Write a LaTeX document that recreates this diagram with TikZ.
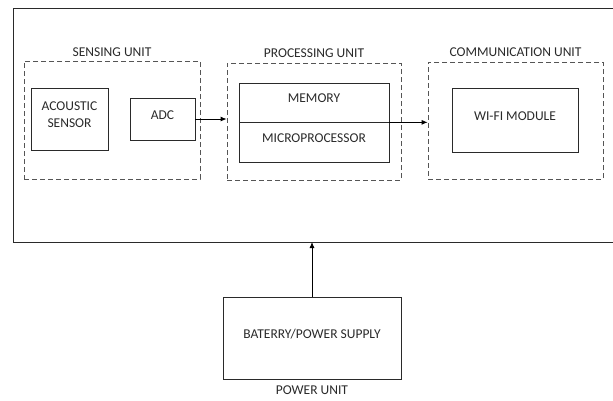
\documentclass[tikz,border=0pt]{standalone}
\usepackage{fontspec}
\setmainfont{Carlito}
\usetikzlibrary{arrows.meta}
\definecolor{ink}{HTML}{2A2A2A}
\definecolor{dashgray}{HTML}{555555}
\begin{document}
\begin{tikzpicture}[x=1pt,y=-1pt,
  font=\fontsize{13.5}{17}\selectfont, text=ink,
  unitbox/.style={draw=dashgray, dashed, dash pattern=on 5pt off 3pt, line width=0.8pt, minimum width=#1},
  block/.style={draw=ink, line width=0.7pt, inner sep=0pt, align=center, text depth=8pt},
  unitlabel/.style={anchor=base, inner sep=0pt},
  flow/.style={draw=black, line width=0.8pt, -{Latex[length=6pt,width=5pt]}}
]
\useasboundingbox (0,0) rectangle (613,400);

% enclosing frame (open on the right)
\draw[ink, line width=0.7pt] (613,8) -- (13,8) -- (13,242) -- (613,242);
\coordinate (frameb) at (312,242);

% sensing unit
\node[unitbox=176pt, minimum height=118pt] (sens) at (112,120) {};
\node[unitlabel] (senslbl) at ([yshift=4pt]sens.north) {SENSING UNIT};
\node[block, minimum width=77pt, minimum height=62pt] (acou) at (69.5,119) {ACOUSTIC\\SENSOR};
\node[block, minimum width=65pt, minimum height=42pt] (adc) at (162.5,119) {ADC};

% processing unit
\node[unitbox=174pt, minimum height=117pt] (proc) at (314,121.5) {};
\node[unitlabel] (proclbl) at ([yshift=5pt]proc.north) {PROCESSING UNIT};
\node[block, minimum width=150pt, minimum height=39pt] (mem) at (314,102.5) {MEMORY};
\node[block, minimum width=150pt, minimum height=40pt] (micro) at (314,142) {MICROPROCESSOR};

% communication unit
\node[unitbox=175pt, minimum height=117pt] (comm) at (515.5,120.5) {};
\node[unitlabel] (commlbl) at ([yshift=5pt]comm.north) {COMMUNICATION UNIT};
\node[block, minimum width=126pt, minimum height=64pt] (wifi) at (515,120) {WI-FI MODULE};

% power unit
\node[block, minimum width=178pt, minimum height=82pt] (power) at (312,338) {BATERRY/POWER SUPPLY};
\node[anchor=base, inner sep=0pt] (powlbl) at ([yshift=-15pt]power.south) {POWER UNIT};

% connectors
\draw[flow] (adc.east) -- (proc.west |- adc.east);
\draw[flow] (mem.south east) -- (comm.west |- mem.south east);
\draw[flow] (power.north) -- (frameb);
\end{tikzpicture}
\end{document}
